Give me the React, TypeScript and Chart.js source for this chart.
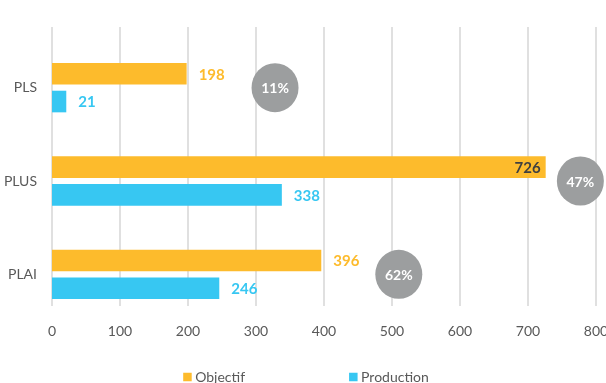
import React, { useEffect, useRef } from "react";
import { Chart, registerables } from "chart.js";

Chart.register(...registerables);

// ---- data ----
const categories = ["PLS", "PLUS", "PLAI"];
const objectif = [198, 726, 396];
const production = [21, 338, 246];
const seriesNames = ["Objectif", "Production"];
const axisMin = 0;
const axisMax = 800;
const axisStep = 100;
// value-axis anchor of each "production / objectif" bubble
const ratioBubbleAt = [328, 777, 510];

// ---- styles ----
const ORANGE = "#FDBB2C";
const BLUE = "#37C7F2";
const BUBBLE = "#9C9E9F";
const TEXT = "#595959";
const DARK = "#404040";
const GRID = "#E0E0E0";
const FONT = "Lato, 'Open Sans', sans-serif";

const overlay = {
  id: "overlay",
  beforeDatasetsDraw(chart: any) {
    const { ctx, chartArea, scales } = chart;
    const x = scales.x;
    ctx.save();
    ctx.strokeStyle = GRID;
    ctx.lineWidth = 2;
    x.ticks.forEach((t: any) => {
      const px = x.getPixelForValue(t.value);
      ctx.beginPath();
      ctx.moveTo(px, chartArea.top - 14);
      ctx.lineTo(px, chartArea.bottom - 15);
      ctx.stroke();
    });
    ctx.restore();
  },
  afterDatasetsDraw(chart: any) {
    const { ctx, scales } = chart;
    const x = scales.x;
    const y = scales.y;
    ctx.save();
    ctx.font = `bold 15px ${FONT}`;
    ctx.textBaseline = "middle";
    chart.data.datasets.forEach((ds: any, di: number) => {
      const meta = chart.getDatasetMeta(di);
      meta.data.forEach((bar: any, i: number) => {
        const v = ds.data[i];
        const txt = String(v);
        if (v >= axisMax * 0.9) {
          ctx.fillStyle = DARK;
          ctx.textAlign = "right";
          ctx.fillText(txt, bar.x - 5, bar.y + 1);
        } else {
          ctx.fillStyle = ds.backgroundColor;
          ctx.textAlign = "left";
          ctx.fillText(txt, bar.x + 12, bar.y + 1);
        }
      });
    });
    // ratio bubbles
    categories.forEach((c, i) => {
      const cx = x.getPixelForValue(ratioBubbleAt[i]);
      const cy = y.getPixelForValue(i);
      ctx.fillStyle = BUBBLE;
      ctx.beginPath();
      ctx.ellipse(cx, cy, 23.5, 24.5, 0, 0, Math.PI * 2);
      ctx.fill();
      const pct = Math.round((production[i] / objectif[i]) * 100);
      ctx.fillStyle = "#FFFFFF";
      ctx.textAlign = "center";
      ctx.font = `bold 14px ${FONT}`;
      ctx.fillText(pct + "%", cx, cy + 1);
    });
    ctx.restore();
  },
  afterDraw(chart: any) {
    const { ctx, width } = chart;
    ctx.save();
    ctx.font = `14px ${FONT}`;
    ctx.textBaseline = "middle";
    ctx.textAlign = "left";
    const sq = 8.5;
    const gap = 3.5;
    const spacing = 104;
    const items = chart.data.datasets.map((ds: any) => ({
      label: ds.label,
      color: ds.backgroundColor,
      w: ctx.measureText(ds.label).width,
    }));
    let total = 0;
    items.forEach((it: any, k: number) => {
      total += sq + gap + it.w + (k < items.length - 1 ? spacing : 0);
    });
    let cx = width / 2 + 3 - total / 2;
    const cy = 377;
    items.forEach((it: any) => {
      ctx.fillStyle = it.color;
      ctx.fillRect(cx, cy - sq / 2, sq, sq);
      ctx.fillStyle = TEXT;
      ctx.fillText(it.label, cx + sq + gap, cy);
      cx += sq + gap + it.w + spacing;
    });
    ctx.restore();
  },
};

export default function App() {
  const ref = useRef<HTMLCanvasElement | null>(null);
  useEffect(() => {
    if (!ref.current) return;
    const chart = new Chart(ref.current, {
      type: "bar",
      data: {
        labels: categories,
        datasets: [
          {
            label: seriesNames[0],
            data: objectif,
            backgroundColor: ORANGE,
            categoryPercentage: 0.594,
            barPercentage: 0.78,
          },
          {
            label: seriesNames[1],
            data: production,
            backgroundColor: BLUE,
            categoryPercentage: 0.594,
            barPercentage: 0.78,
          },
        ],
      },
      options: {
        indexAxis: "y",
        responsive: false,
        animation: false,
        layout: { padding: { left: 0, right: 10, top: 41, bottom: 42 } },
        plugins: {
          legend: { display: false },
          tooltip: { enabled: false },
        },
        scales: {
          x: {
            min: axisMin,
            max: axisMax,
            grid: { display: false, drawTicks: false },
            border: { display: false },
            ticks: {
              stepSize: axisStep,
              padding: 2,
              color: TEXT,
              font: { family: FONT, size: 14 },
            },
            afterFit: (s: any) => {
              s.height = 20;
              s.paddingRight = 0;
              s.paddingLeft = 0;
            },
          },
          y: {
            grid: { display: false, drawTicks: false },
            border: { display: false },
            ticks: {
              padding: 15,
              color: TEXT,
              font: { family: FONT, size: 14 },
            },
            afterFit: (s: any) => {
              s.width = 52;
            },
          },
        },
      },
      plugins: [overlay],
    });
    return () => chart.destroy();
  }, []);
  return (
    <div style={{ position: "absolute", left: 0, top: 0, width: 606, height: 383, background: "#fff" }}>
      <canvas ref={ref} width={606} height={383} style={{ display: "block" }} />
    </div>
  );
}
